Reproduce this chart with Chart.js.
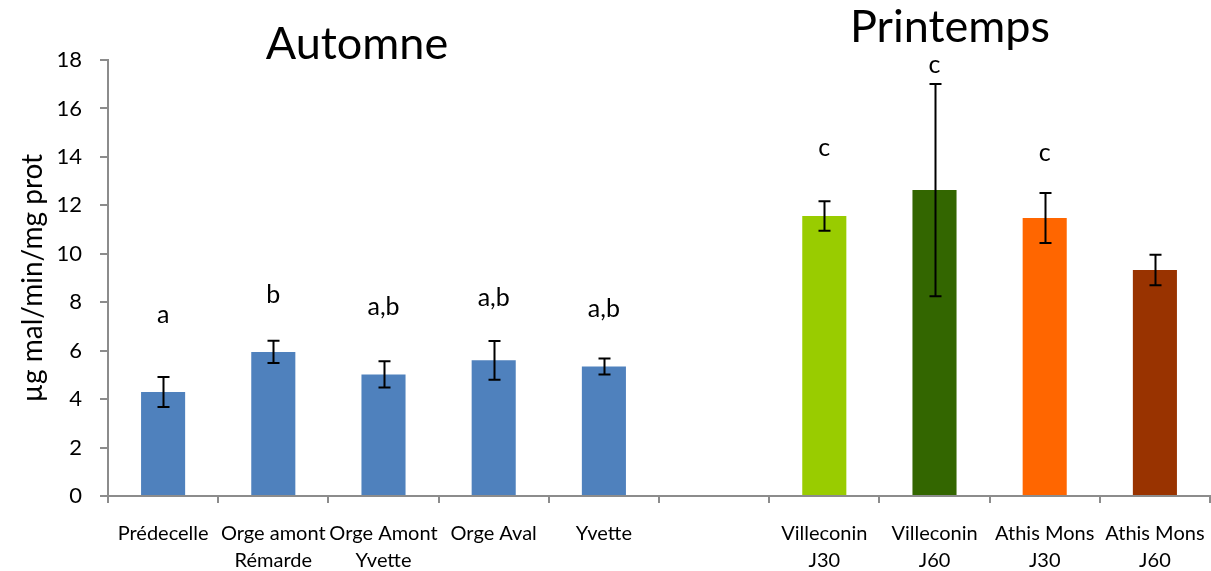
<!DOCTYPE html>
<html>
<head>
<meta charset="utf-8">
<script src="https://cdn.jsdelivr.net/npm/chart.js@4.4.1/dist/chart.umd.min.js"></script>
<style>
    html, body { margin: 0; padding: 0; background: #ffffff; }
    #wrap { width: 1211px; height: 571px; }
</style>
</head>
<body>
<div id="wrap"><canvas id="activityChart" width="1211" height="571"></canvas></div>
<script>
// Activité enzymatique par site - automne / printemps

const categories = [
    'Prédecelle', ['Orge amont', 'Rémarde'], ['Orge Amont', 'Yvette'], 'Orge Aval', 'Yvette',
    '',
    ['Villeconin', 'J30'], ['Villeconin', 'J60'], ['Athis Mons', 'J30'], ['Athis Mons', 'J60']
];
const meanValues = [4.29, 5.95, 5.02, 5.60, 5.35, null, 11.56, 12.63, 11.48, 9.33];
const errorValues = [0.62, 0.46, 0.54, 0.80, 0.33, null, 0.61, 4.38, 1.03, 0.63];
const groupLetters = ['a', 'b', 'a,b', 'a,b', 'a,b', '', 'c', 'c', 'c', ''];
const letterHeights = [7.47, 8.30, 7.80, 8.18, 7.72, null, 14.37, 17.80, 14.17, null];
const barColors = ['#4f81bd', '#4f81bd', '#4f81bd', '#4f81bd', '#4f81bd', '#4f81bd',
    '#99cc00', '#336600', '#ff6600', '#993300'];
const yTicks = [0, 2, 4, 6, 8, 10, 12, 14, 16, 18];

const FONT = 'Lato, "Open Sans", sans-serif';

const errorBarsPlugin = {
    id: 'errorBars',
    afterDatasetsDraw(chart) {
        const ctx = chart.ctx;
        const meta = chart.getDatasetMeta(0);
        const y = chart.scales.y;
        ctx.save();
        ctx.strokeStyle = '#000000';
        ctx.lineWidth = 2;
        meta.data.forEach(function(bar, i) {
            if (meanValues[i] === null) return;
            const top = y.getPixelForValue(meanValues[i] + errorValues[i]);
            const bottom = y.getPixelForValue(meanValues[i] - errorValues[i]);
            const x = Math.round(bar.x) + 0.5;
            ctx.beginPath();
            ctx.moveTo(x, top);
            ctx.lineTo(x, bottom);
            ctx.moveTo(x - 6, top);
            ctx.lineTo(x + 6, top);
            ctx.moveTo(x - 6, bottom);
            ctx.lineTo(x + 6, bottom);
            ctx.stroke();
        });
        // lettres de groupes statistiques
        ctx.fillStyle = '#000000';
        ctx.font = '25px ' + FONT;
        ctx.textAlign = 'center';
        ctx.textBaseline = 'middle';
        meta.data.forEach(function(bar, i) {
            if (!groupLetters[i]) return;
            ctx.fillText(groupLetters[i], bar.x, y.getPixelForValue(letterHeights[i]));
        });
        // titres des saisons
        const area = chart.chartArea;
        ctx.font = '45px ' + FONT;
        ctx.fillText('Automne', area.left + 249, 44);
        ctx.fillText('Printemps', area.left + 842, 27);
        ctx.restore();
    }
};

const ctx = document.getElementById('activityChart').getContext('2d');
new Chart(ctx, {
    type: 'bar',
    data: {
        labels: categories,
        datasets: [{
            data: meanValues,
            backgroundColor: barColors,
            borderWidth: 0,
            barPercentage: 0.4,
            categoryPercentage: 1.0
        }]
    },
    options: {
        responsive: false,
        animation: false,
        layout: { padding: { top: 60, right: 1, left: 0, bottom: 0 } },
        plugins: {
            legend: { display: false },
            tooltip: { enabled: false }
        },
        scales: {
            x: {
                grid: {
                    display: true,
                    drawOnChartArea: false,
                    drawTicks: true,
                    tickLength: 7,
                    color: '#8c8c8c',
                    lineWidth: 2
                },
                border: { color: '#8c8c8c', width: 2 },
                ticks: {
                    color: '#000000',
                    font: { family: FONT, size: 20, lineHeight: 1.35 },
                    padding: 17,
                    maxRotation: 0,
                    autoSkip: false
                },
                afterFit: function(scale) {
                    scale.height = 75;
                    scale.paddingLeft = 0;
                    scale.paddingRight = 0;
                }
            },
            y: {
                min: 0,
                max: 18,
                afterBuildTicks: function(scale) {
                    scale.ticks = yTicks.map(function(v) { return { value: v }; });
                },
                grid: {
                    display: true,
                    drawOnChartArea: false,
                    drawTicks: true,
                    tickLength: 8,
                    color: '#8c8c8c',
                    lineWidth: 2
                },
                border: { color: '#8c8c8c', width: 2 },
                ticks: {
                    color: '#000000',
                    font: { family: FONT, size: 22 },
                    padding: 18
                },
                title: {
                    display: true,
                    text: 'µg mal/min/mg prot',
                    color: '#000000',
                    font: { family: FONT, size: 28 },
                    padding: { top: 16, bottom: 0 }
                },
                afterFit: function(scale) {
                    scale.width = 108;
                    scale.paddingTop = 0;
                    scale.paddingBottom = 0;
                }
            }
        }
    },
    plugins: [errorBarsPlugin]
});
</script>
</body>
</html>
